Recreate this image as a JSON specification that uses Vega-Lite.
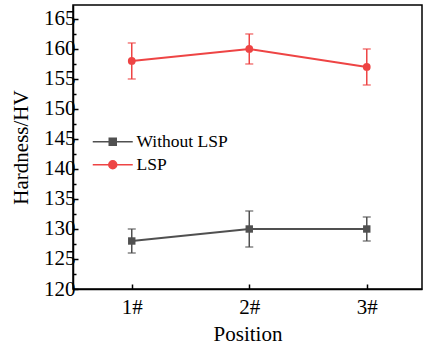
{
  "$schema": "https://vega.github.io/schema/vega-lite/v6.json",
  "width": 349,
  "height": 284,
  "autosize": {"type": "none"},
  "padding": {"left": 73, "top": 5, "right": 1, "bottom": 60},
  "background": "white",
  "config": {
    "view": {"stroke": "black", "strokeWidth": 1.5},
    "font": "Liberation Serif",
    "axis": {"zindex": 1}
  },
  "data": {"values": [
    {"pos": 1, "series": "Without LSP", "value": 128, "lo": 126, "hi": 130},
    {"pos": 2, "series": "Without LSP", "value": 130, "lo": 127, "hi": 133},
    {"pos": 3, "series": "Without LSP", "value": 130, "lo": 128, "hi": 132},
    {"pos": 1, "series": "LSP", "value": 158, "lo": 155, "hi": 161},
    {"pos": 2, "series": "LSP", "value": 160, "lo": 157.5, "hi": 162.5},
    {"pos": 3, "series": "LSP", "value": 157, "lo": 154, "hi": 160}
  ]},
  "encoding": {
    "x": {
      "field": "pos", "type": "quantitative",
      "scale": {"domain": [0.5, 3.47], "nice": false, "zero": false},
      "axis": {"values": [1, 2, 3], "labelExpr": "datum.value + '#'", "title": "Position", "tickSize": -5, "tickWidth": 1.5, "tickColor": "black", "domainColor": "black", "domainWidth": 1.5, "labelPadding": 12, "titlePadding": 6, "labelFlush": false, "grid": false, "labelFont": "Liberation Serif", "titleFont": "Liberation Serif", "labelFontSize": 21, "titleFontSize": 21, "titleFontWeight": "normal", "labelColor": "black", "titleColor": "black", "zindex": 1}
    },
    "color": {
      "field": "series", "type": "nominal",
      "scale": {"domain": ["Without LSP", "LSP"], "range": ["#505050", "#ee4444"]},
      "legend": {
        "title": null, "orient": "none", "legendX": 31, "legendY": 128,
        "padding": 0, "symbolSize": 100, "labelFontSize": 17.5, "labelFont": "Liberation Serif", "labelColor": "black",
        "labelOffset": 15, "rowPadding": 4,
        "symbolType": "M-4,0H-0.7M0.7,0H4M-0.7,-0.7H0.7V0.7H-0.7Z",
        "symbolStrokeWidth": 1.5,
        "symbolOpacity": 1,
        "encoding": {"symbols": {
          "shape": {"condition": {"test": "datum.value === 'LSP'", "value": "M-4,0H-0.8M0.8,0H4M0.8,0A0.8,0.8 0 1,1 -0.8,0A0.8,0.8 0 1,1 0.8,0Z"}, "value": "M-4,0H-0.7M0.7,0H4M-0.7,-0.7H0.7V0.7H-0.7Z"},
          "fill": {"condition": {"test": "datum.value === 'LSP'", "value": "#ee4444"}, "value": "#505050"},
          "stroke": {"condition": {"test": "datum.value === 'LSP'", "value": "#ee4444"}, "value": "#505050"}
        }}
      }
    }
  },
  "layer": [
    {
      "mark": {"type": "rule", "strokeWidth": 1.5},
      "encoding": {
        "y": {"field": "lo", "type": "quantitative", "scale": {"domain": [120, 167.33], "nice": false, "zero": false},
          "axis": {
            "title": "Hardness/HV",
            "values": [120, 122.5, 125, 127.5, 130, 132.5, 135, 137.5, 140, 142.5, 145, 147.5, 150, 152.5, 155, 157.5, 160, 162.5, 165],
            "labelExpr": "datum.value % 5 === 0 ? datum.value : ''",
            "labelOverlap": false,
            "tickSize": {"condition": {"test": "datum.value % 5 === 0", "value": -5}, "value": -3}, "tickWidth": 1.5, "tickColor": "black", "domainColor": "black", "domainWidth": 1.5,
            "labelPadding": 3, "titlePadding": 12, "grid": false, "zindex": 1,
            "labelFont": "Liberation Serif", "titleFont": "Liberation Serif", "labelFontSize": 21, "titleFontSize": 21, "titleFontWeight": "normal", "labelColor": "black", "titleColor": "black"
          }},
        "y2": {"field": "hi"}
      }
    },
    {
      "mark": {"type": "tick", "orient": "horizontal", "size": 8, "thickness": 1.5},
      "encoding": {"y": {"field": "lo", "type": "quantitative", "axis": {
            "title": "Hardness/HV",
            "values": [120, 122.5, 125, 127.5, 130, 132.5, 135, 137.5, 140, 142.5, 145, 147.5, 150, 152.5, 155, 157.5, 160, 162.5, 165],
            "labelExpr": "datum.value % 5 === 0 ? datum.value : ''",
            "labelOverlap": false,
            "tickSize": {"condition": {"test": "datum.value % 5 === 0", "value": -5}, "value": -3}, "tickWidth": 1.5, "tickColor": "black", "domainColor": "black", "domainWidth": 1.5,
            "labelPadding": 3, "titlePadding": 12, "grid": false, "zindex": 1,
            "labelFont": "Liberation Serif", "titleFont": "Liberation Serif", "labelFontSize": 21, "titleFontSize": 21, "titleFontWeight": "normal", "labelColor": "black", "titleColor": "black"
          }}}
    },
    {
      "mark": {"type": "tick", "orient": "horizontal", "size": 8, "thickness": 1.5},
      "encoding": {"y": {"field": "hi", "type": "quantitative", "axis": {
            "title": "Hardness/HV",
            "values": [120, 122.5, 125, 127.5, 130, 132.5, 135, 137.5, 140, 142.5, 145, 147.5, 150, 152.5, 155, 157.5, 160, 162.5, 165],
            "labelExpr": "datum.value % 5 === 0 ? datum.value : ''",
            "labelOverlap": false,
            "tickSize": {"condition": {"test": "datum.value % 5 === 0", "value": -5}, "value": -3}, "tickWidth": 1.5, "tickColor": "black", "domainColor": "black", "domainWidth": 1.5,
            "labelPadding": 3, "titlePadding": 12, "grid": false, "zindex": 1,
            "labelFont": "Liberation Serif", "titleFont": "Liberation Serif", "labelFontSize": 21, "titleFontSize": 21, "titleFontWeight": "normal", "labelColor": "black", "titleColor": "black"
          }}}
    },
    {
      "mark": {"type": "line", "strokeWidth": 2},
      "encoding": {"y": {"field": "value", "type": "quantitative", "axis": {
            "title": "Hardness/HV",
            "values": [120, 122.5, 125, 127.5, 130, 132.5, 135, 137.5, 140, 142.5, 145, 147.5, 150, 152.5, 155, 157.5, 160, 162.5, 165],
            "labelExpr": "datum.value % 5 === 0 ? datum.value : ''",
            "labelOverlap": false,
            "tickSize": {"condition": {"test": "datum.value % 5 === 0", "value": -5}, "value": -3}, "tickWidth": 1.5, "tickColor": "black", "domainColor": "black", "domainWidth": 1.5,
            "labelPadding": 3, "titlePadding": 12, "grid": false, "zindex": 1,
            "labelFont": "Liberation Serif", "titleFont": "Liberation Serif", "labelFontSize": 21, "titleFontSize": 21, "titleFontWeight": "normal", "labelColor": "black", "titleColor": "black"
          }}}
    },
    {
      "transform": [{"filter": "datum.series === 'Without LSP'"}],
      "mark": {"type": "point", "shape": "square", "filled": true, "opacity": 1, "size": 55},
      "encoding": {"y": {"field": "value", "type": "quantitative", "axis": {
            "title": "Hardness/HV",
            "values": [120, 122.5, 125, 127.5, 130, 132.5, 135, 137.5, 140, 142.5, 145, 147.5, 150, 152.5, 155, 157.5, 160, 162.5, 165],
            "labelExpr": "datum.value % 5 === 0 ? datum.value : ''",
            "labelOverlap": false,
            "tickSize": {"condition": {"test": "datum.value % 5 === 0", "value": -5}, "value": -3}, "tickWidth": 1.5, "tickColor": "black", "domainColor": "black", "domainWidth": 1.5,
            "labelPadding": 3, "titlePadding": 12, "grid": false, "zindex": 1,
            "labelFont": "Liberation Serif", "titleFont": "Liberation Serif", "labelFontSize": 21, "titleFontSize": 21, "titleFontWeight": "normal", "labelColor": "black", "titleColor": "black"
          }}}
    },
    {
      "transform": [{"filter": "datum.series === 'LSP'"}],
      "mark": {"type": "point", "shape": "circle", "filled": true, "opacity": 1, "size": 60},
      "encoding": {"y": {"field": "value", "type": "quantitative", "axis": {
            "title": "Hardness/HV",
            "values": [120, 122.5, 125, 127.5, 130, 132.5, 135, 137.5, 140, 142.5, 145, 147.5, 150, 152.5, 155, 157.5, 160, 162.5, 165],
            "labelExpr": "datum.value % 5 === 0 ? datum.value : ''",
            "labelOverlap": false,
            "tickSize": {"condition": {"test": "datum.value % 5 === 0", "value": -5}, "value": -3}, "tickWidth": 1.5, "tickColor": "black", "domainColor": "black", "domainWidth": 1.5,
            "labelPadding": 3, "titlePadding": 12, "grid": false, "zindex": 1,
            "labelFont": "Liberation Serif", "titleFont": "Liberation Serif", "labelFontSize": 21, "titleFontSize": 21, "titleFontWeight": "normal", "labelColor": "black", "titleColor": "black"
          }}}
    }
  ]
}
